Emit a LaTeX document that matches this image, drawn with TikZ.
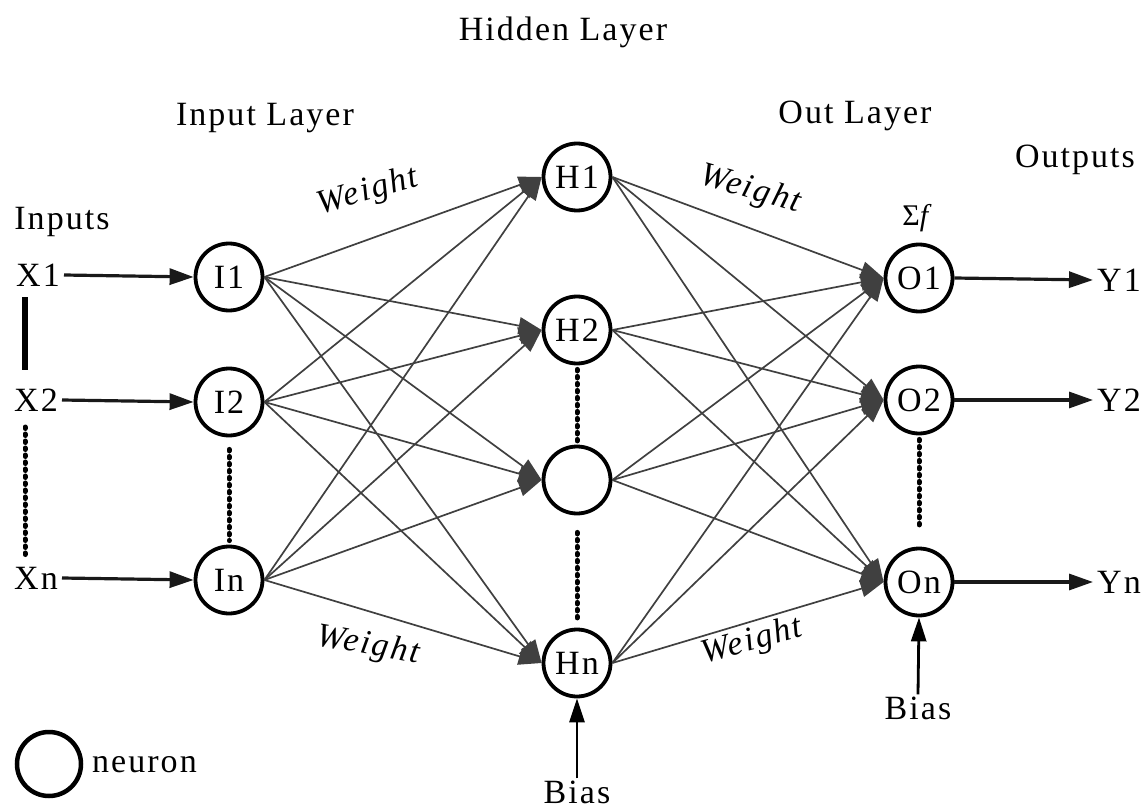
\documentclass[tikz,border=0pt]{standalone}
\usepackage{fontspec}
\setmainfont{Liberation Serif}[LetterSpace=6]
\usetikzlibrary{arrows.meta}
\newcommand\lbf{\fontsize{34}{40}\selectfont}
\begin{document}
\begin{tikzpicture}[x=1pt,y=-1pt,
  neuron/.style={circle,draw,line width=3.8pt,minimum size=67pt,inner sep=0pt,font=\lbf},
  lab/.style={font=\lbf,inner sep=2pt},
  conn/.style={draw=black!75,line width=1.7pt,-{Triangle[length=23pt,width=17pt]}},
  bigarrow/.style={draw=black!90,line width=3.2pt,-{Triangle[length=24pt,width=16pt]}},
  dotline/.style={line width=5pt,line cap=round,dash pattern=on 1.5pt off 5.5pt},
  wlab/.style={font=\lbf\itshape,inner sep=0pt}]
\useasboundingbox (0,0) rectangle (1148,810);

% titles
\node[lab] (hid) at (563,32) {Hidden Layer};
\node[lab] (inl) at (265,118) {Input Layer};
\node[lab] (outl) at (855,116) {Out Layer};
\node[lab] (outs) at (1075,160) {Outputs};
\node[lab] (ins) at (62,222) {Inputs};

% neurons
\node[neuron] (I1) at (229,277) {I1};
\node[neuron] (I2) at (229,402) {I2};
\node[neuron] (In) at (229,580) {In};
\node[neuron] (H1) at (577,177) {H1};
\node[neuron] (H2) at (577,330) {H2};
\node[neuron] (H3) at (577,480) {};
\node[neuron] (Hn) at (577,663) {Hn};
\node[neuron] (O1) at (919,278) {O1};
\node[neuron] (O2) at (919,400) {O2};
\node[neuron] (On) at (919,582) {On};

% inputs / outputs
\node[lab,inner sep=4pt] (X1) at (38,275) {X1};
\node[lab,inner sep=4pt] (X2) at (36,400) {X2};
\node[lab,inner sep=4pt] (Xn) at (36,578) {Xn};
\node[lab,inner sep=4pt] (Y1) at (1119,280) {Y1};
\node[lab,inner sep=4pt] (Y2) at (1119,400) {Y2};
\node[lab,inner sep=4pt] (Yn) at (1119,582) {Yn};
\node[lab] (b1) at (577,792) {Bias};
\node[lab] (b2) at (918,708) {Bias};
\node[font=\fontsize{30}{34}\selectfont,inner sep=0pt] (sf) at (918,218) {Σ\textit{f}};

% weights
\node[wlab,rotate=16] (w1) at (368,192) {Weight};
\node[wlab,rotate=-16] (w2) at (750,190) {Weight};
\node[wlab,rotate=-10] (w3) at (368,646) {Weight};
\node[wlab,rotate=15] (w4) at (752,642) {Weight};

% connections
\foreach \a in {I1,I2,In}
  \foreach \b in {H1,H2,H3,Hn}
    \draw[conn] (\a.east) -- (\b.west);
\foreach \a in {H1,H2,H3,Hn}
  \foreach \b in {O1,O2,On}
    \draw[conn] (\a.east) -- (\b.west);

\draw[bigarrow] (X1.east) -- (I1.west);
\draw[bigarrow] (X2.east) -- (I2.west);
\draw[bigarrow] (Xn.east) -- (In.west);
\draw[bigarrow] (O1.east) -- (Y1.west);
\draw[bigarrow] (O2.east) -- (Y2.west);
\draw[bigarrow] (On.east) -- (Yn.west);
\draw[draw=black,line width=2.8pt,-{Triangle[length=24pt,width=15pt]}] (b1.north) -- (Hn.south);
\draw[draw=black,line width=2.8pt,-{Triangle[length=24pt,width=15pt]}] (b2.north) -- (On.south);

% vertical bars and dots
\coordinate (xb1) at (25,297);
\coordinate (xb2) at (25,370);
\draw[line width=5.5pt] (xb1) -- (xb2);
\coordinate (xd1) at (25,427);
\coordinate (xd2) at (25,555);
\draw[dotline] (xd1) -- (xd2);
\draw[dotline] ([yshift=-12pt]I2.south) -- ([yshift=4pt]In.north);
\draw[dotline] ([yshift=-4pt]H2.south) -- ([yshift=2pt]H3.north);
\draw[dotline] ([yshift=-17pt]H3.south) -- ([yshift=8pt]Hn.north);
\draw[dotline] ([yshift=-4pt]O2.south) -- ([yshift=20pt]On.north);

% legend
\node[circle,draw,line width=4.5pt,minimum size=64pt,inner sep=0pt] (leg) at (49,764) {};
\node[lab,anchor=west] (legt) at (90,765) {neuron};
\end{tikzpicture}
\end{document}
